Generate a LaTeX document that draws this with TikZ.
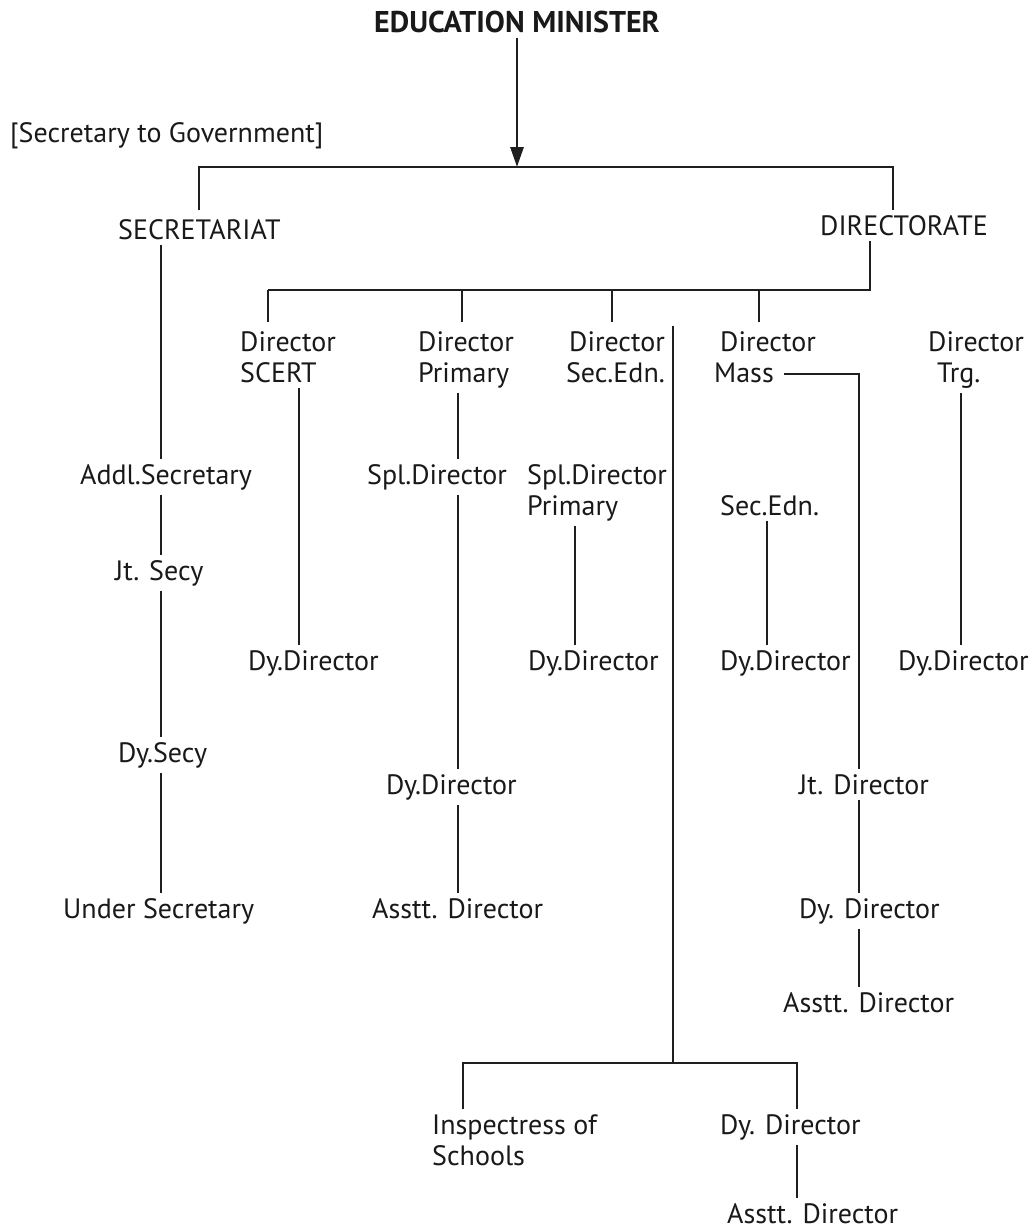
\documentclass[tikz,border=0pt]{standalone}
\usepackage{fontspec}
\setmainfont{PT Sans}
\usetikzlibrary{arrows.meta}
\begin{document}
\begin{tikzpicture}[x=1pt,y=-1pt,
  lbl/.style={inner sep=5pt,font=\fontsize{28}{31}\selectfont,align=left,anchor=base west,text=black!90},
  link/.style={line width=2.9pt,draw=black!88}]
\useasboundingbox (0,0) rectangle (1035,1229);
% x positions
\foreach \n/\x in {xa/161,xb/299,xc/458,xd/575,xe/673,xf/767,xg/859,xh/961,xi/797,xj/870}
  \coordinate (\n) at (\x,0);
% nodes
\node[lbl,anchor=base,font=\fontsize{30}{31}\selectfont\bfseries] (min) at (517,32) {EDUCATION MINISTER};
\node[lbl] (sg) at (5,142) {[Secretary to Government]};
\node[lbl] (secr) at (113,239) {SECRETARIAT};
\node[lbl] (dir) at (815,235) {DIRECTORATE};
\node[lbl] (scert) at (235,382) {Director\\SCERT};
\node[lbl] (prim) at (413,382) {Director\\Primary};
\node[lbl,align=right,anchor=base east] (sec) at (670,382) {Director\\Sec.Edn.};
\node[lbl] (mass) at (709,382) {\hspace*{6pt}Director\\Mass};
\node[lbl] (trg) at (923,382) {Director\\\hspace*{9pt}Trg.};
\node[lbl] (addl) at (75,484) {Addl.Secretary};
\node[lbl] (jt) at (110,580) {Jt. Secy};
\node[lbl] (dys) at (113,762) {Dy.Secy};
\node[lbl] (us) at (58,918) {Under Secretary};
\node[lbl] (d1) at (243,670) {Dy.Director};
\node[lbl] (spl) at (362,484) {Spl.Director};
\node[lbl] (d2) at (381,794) {Dy.Director};
\node[lbl] (a2) at (367,918) {Asstt. Director};
\node[lbl] (splp) at (522,515) {Spl.Director\\Primary};
\node[lbl] (d3) at (523,670) {Dy.Director};
\node[lbl] (se) at (715,515) {Sec.Edn.};
\node[lbl] (d4) at (715,670) {Dy.Director};
\node[lbl] (jd) at (794,794) {Jt. Director};
\node[lbl] (d5) at (794,918) {Dy. Director};
\node[lbl] (a5) at (778,1012) {Asstt. Director};
\node[lbl] (d6) at (893,670) {Dy.Director};
\node[lbl] (ins) at (427,1165) {Inspectress of\\Schools};
\node[lbl] (d7) at (715,1134) {Dy. Director};
\node[lbl] (a7) at (722,1223) {Asstt. Director};
% junction coordinates
\coordinate (top) at (517,167);
\coordinate (lefttop) at (199,210);
\coordinate (righttop) at (893,210);
\coordinate (dirbar) at (870,290);
\coordinate (secbar) at (673,1063);
\coordinate (massend) at (784,374);
% connectors
\draw[link,-{Triangle[length=20pt,width=13pt]}] (min.south) -- (top);
\draw[link] (lefttop) |- (top) -| (righttop);
\draw[link] (dir.south -| xj) -- (dirbar) -- (268,290);
\foreach \x in {268,462,612,759}
  \draw[link] (\x,290) -- (\x,322);
\draw[link] (secr.south -| xa) -- (addl.north -| xa);
\draw[link] (addl.south -| xa) -- (jt.north -| xa);
\draw[link] (jt.south -| xa) -- (dys.north -| xa);
\draw[link] (dys.south -| xa) -- (us.north -| xa);
\draw[link] (scert.south -| xb) -- (d1.north -| xb);
\draw[link] (prim.south -| xc) -- (spl.north -| xc);
\draw[link] (spl.south -| xc) -- (d2.north -| xc);
\draw[link] (d2.south -| xc) -- (a2.north -| xc);
\draw[link] (splp.south -| xd) -- (d3.north -| xd);
\draw[link] (sec.north -| xe) -- (secbar);
\draw[link] (ins.north -| 463,0) |- (secbar) -| (d7.north -| xi);
\draw[link] (d7.south -| xi) -- (a7.north -| xi);
\draw[link] (se.south -| xf) -- (d4.north -| xf);
\draw[link] (massend) -| (jd.north -| xg);
\draw[link] (jd.south -| xg) -- (d5.north -| xg);
\draw[link] (d5.south -| xg) -- (a5.north -| xg);
\draw[link] (trg.south -| xh) -- (d6.north -| xh);
\end{tikzpicture}
\end{document}
